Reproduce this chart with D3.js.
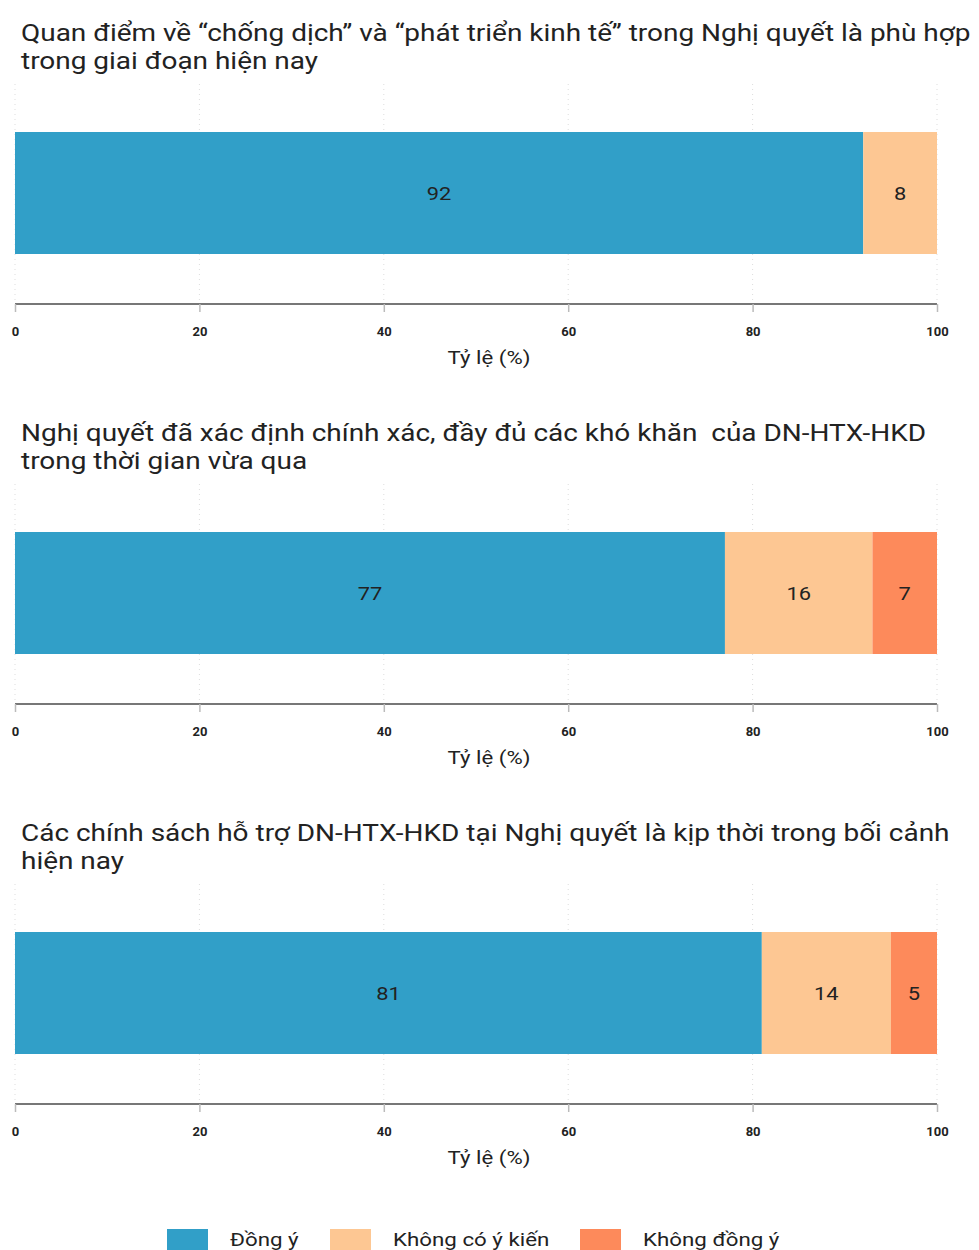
<!DOCTYPE html>
<html>
<head>
<meta charset="utf-8">
<script src="https://cdn.jsdelivr.net/npm/d3@7"></script>
<style>
  body { margin: 0; background: #fff; }
  text { font-family: Roboto, "Liberation Sans", sans-serif; white-space: pre; }
</style>
</head>
<body>
<div id="chart"></div>
<script>
const width = 979, height = 1250

// data
const categories = ["Đồng ý", "Không có ý kiến", "Không đồng ý"]
const titles = [
  ["Quan điểm về “chống dịch” và “phát triển kinh tế” trong Nghị quyết là phù hợp", "trong giai đoạn hiện nay"],
  ["Nghị quyết đã xác định chính xác, đầy đủ các khó khăn  của DN-HTX-HKD", "trong thời gian vừa qua"],
  ["Các chính sách hỗ trợ DN-HTX-HKD tại Nghị quyết là kịp thời trong bối cảnh", "hiện nay"]
]
const dongY = [92, 77, 81]
const khongYKien = [8, 16, 14]
const khongDongY = [0, 7, 5]
const ticks = [0, 20, 40, 60, 80, 100]
const axisTitle = "Tỷ lệ (%)"

const colors = ["#319fc8", "#fdc793", "#fd8a5b"]
const color = d3.scaleOrdinal().domain(categories).range(colors)

const svg = d3.select('#chart')
  .append('svg')
  .attr('width', width)
  .attr('height', height)

const x = d3.scaleLinear().domain([0, 100]).range([15, 937])

titles.forEach((t, i) => {
  const g = svg.append('g').attr('transform', `translate(0,${i * 400})`)

  // title (source font is wider, so stretch horizontally)
  g.append('text')
    .attr('transform', 'translate(21,41) scale(1.19,1)')
    .attr('font-size', 23.5)
    .attr('fill', '#222')
    .call(txt => {
      txt.append('tspan').attr('x', 0).text(t[0])
      txt.append('tspan').attr('x', 0).attr('dy', 28).text(t[1])
    })

  // grid
  g.selectAll('line.grid')
    .data(ticks)
    .join('line')
    .attr('class', 'grid')
    .attr('x1', d => x(d)).attr('x2', d => x(d))
    .attr('y1', 84).attr('y2', 302)
    .attr('stroke', '#ddd')
    .attr('stroke-width', 1)
    .attr('stroke-dasharray', '1,4')

  // stacked bar
  const row = { "Đồng ý": dongY[i], "Không có ý kiến": khongYKien[i], "Không đồng ý": khongDongY[i] }
  const stacked = d3.stack().keys(categories)([row]).filter(s => s[0][1] - s[0][0] > 0)
  g.selectAll('rect.seg')
    .data(stacked)
    .join('rect')
    .attr('class', 'seg')
    .attr('x', d => x(d[0][0]))
    .attr('width', d => x(d[0][1]) - x(d[0][0]))
    .attr('y', 132).attr('height', 122)
    .attr('fill', d => color(d.key))

  g.selectAll('text.val')
    .data(stacked)
    .join('text')
    .attr('class', 'val')
    .attr('transform', d => `translate(${(x(d[0][0]) + x(d[0][1])) / 2},193) scale(1.15,1)`)
    .attr('dy', '0.35em')
    .attr('text-anchor', 'middle')
    .attr('font-size', 19)
    .attr('fill', '#222')
    .text(d => d[0][1] - d[0][0])

  // axis
  const axis = g.append('g')
    .attr('transform', 'translate(0,304)')
    .call(d3.axisBottom(x).tickValues(ticks).tickSize(8).tickPadding(15))
  axis.select('.domain').attr('stroke', '#777').attr('stroke-width', 2)
    .attr('d', `M${x(0)},0H${x(100)}`)
  axis.selectAll('.tick line').attr('stroke', '#bbb').attr('stroke-width', 1.5)
  axis.selectAll('.tick text')
    .attr('font-size', 13).attr('font-weight', 'bold').attr('fill', '#222')
    .attr('font-family', 'Roboto, sans-serif')

  g.append('text')
    .attr('transform', 'translate(489,364) scale(1.17,1)')
    .attr('text-anchor', 'middle')
    .attr('font-size', 19)
    .attr('fill', '#222')
    .text(axisTitle)
})

// legend
const legendX = [167, 330, 580]
const legend = svg.append('g').attr('transform', 'translate(0,1229)')
legend.selectAll('rect')
  .data(categories)
  .join('rect')
  .attr('x', (d, i) => legendX[i])
  .attr('y', 0)
  .attr('width', 41).attr('height', 21)
  .attr('fill', d => color(d))
legend.selectAll('text')
  .data(categories)
  .join('text')
  .attr('transform', (d, i) => `translate(${legendX[i] + 63},11) scale(1.24,1)`)
  .attr('dy', '0.35em')
  .attr('font-size', 18)
  .attr('fill', '#222')
  .text(d => d)
</script>
</body>
</html>
